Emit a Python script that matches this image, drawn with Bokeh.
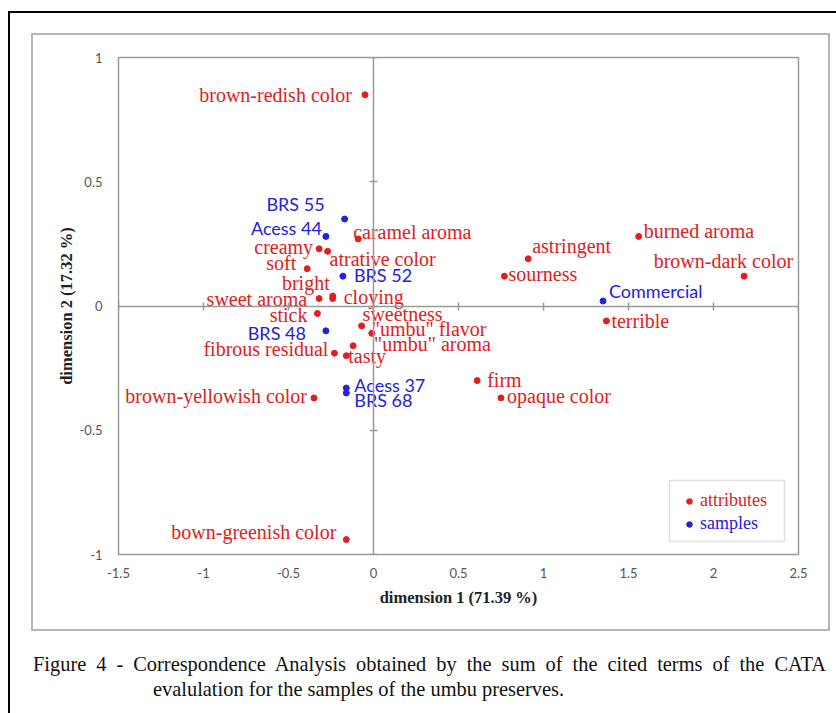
from bokeh.plotting import figure
from bokeh.models import (ColumnDataSource, Range1d, LinearAxis, FixedTicker, Legend, LegendItem,
                          BoxAnnotation, Div)
from bokeh.layouts import column
from bokeh.embed import file_html
from bokeh.resources import INLINE
from bokeh.core.properties import value

# ---------------- data ----------------
attr_names = ["brown-redish color", "caramel aroma", "creamy", "atrative color", "soft", "bright",
              "cloying", "sweet aroma", "stick", "sweetness", "\"umbu\" flavor", "\"umbu\" aroma",
              "tasty", "fibrous residual", "astringent", "burned aroma", "brown-dark color",
              "sourness", "terrible", "firm", "opaque color", "brown-yellowish color",
              "bown-greenish color"]
attr_dim1 = [-0.05, -0.09, -0.32, -0.27, -0.39, -0.24, -0.24, -0.32, -0.33, -0.07, -0.01, -0.12,
             -0.16, -0.23, 0.91, 1.56, 2.18, 0.77, 1.37, 0.61, 0.75, -0.35, -0.16]
attr_dim2 = [0.85, 0.27, 0.23, 0.22, 0.15, 0.04, 0.03, 0.03, -0.03, -0.08, -0.11, -0.16,
             -0.20, -0.19, 0.19, 0.28, 0.12, 0.12, -0.06, -0.30, -0.37, -0.37, -0.94]

sample_names = ["BRS 55", "Acess 44", "BRS 52", "BRS 48", "Commercial", "Acess 37", "BRS 68"]
sample_dim1 = [-0.17, -0.28, -0.18, -0.28, 1.35, -0.16, -0.16]
sample_dim2 = [0.35, 0.28, 0.12, -0.10, 0.02, -0.33, -0.35]

x_ticks = [-1.5, -1, -0.5, 0, 0.5, 1, 1.5, 2, 2.5]
x_tick_labels = ["-1.5", "-1", "-0.5", "0", "0.5", "1", "1.5", "2", "2.5"]
y_ticks = [-1, -0.5, 0, 0.5, 1]
y_tick_labels = ["-1", "-0.5", "0", "0.5", "1"]

x_title = "dimension 1 (71.39 %)"
y_title = "dimension 2 (17.32 %)"
legend_labels = ["attributes", "samples"]
caption = ("Figure 4 - Correspondence Analysis obtained by the sum of the cited terms of the CATA "
           "evalulation for the samples of the umbu preserves.")

# ---------------- label layout (pixel offsets, style only) ----------------
attr_align = ["right", "left", "right", "left", "right", "right", "left", "right", "right", "left",
              "left", "left", "left", "right", "left", "left", "right", "left", "left", "left",
              "left", "right", "right"]
attr_dx = [-13, -5, -6, 2, -11, -3, 11, -12, -10, 1, 0, 21, 2, -6, 4, 5, 49, 4, 5, 10, 6, -7, -10]
attr_dy = [0, -7, -2, 8, -6, -13, -2, 0, 2, -12, -4, -2, 0, -4, -13, -5, -15, -2, 0, -1, -2, -2, -8]

sample_align = ["right", "right", "left", "right", "left", "left", "left"]
sample_dx = [-20, -4, 11, -20, 6, 8, 8]
sample_dy = [-15, -8, -1, 2, -10, -3, 7]

RED = "#e02020"
BLUE = "#2222dd"
GRAY = "#9a9a9a"

attr_src = ColumnDataSource(dict(x=attr_dim1, y=attr_dim2, t=attr_names, a=attr_align,
                                 dx=attr_dx, dy=attr_dy))
samp_src = ColumnDataSource(dict(x=sample_dim1, y=sample_dim2, t=sample_names, a=sample_align,
                                 dx=sample_dx, dy=sample_dy))

W, H = 836, 640
p = figure(width=W, height=H, x_range=Range1d(-1.5, 2.5), y_range=Range1d(-1, 1),
           output_backend="svg", toolbar_location=None,
           min_border_left=118, min_border_right=38, min_border_top=57, min_border_bottom=86)
p.grid.visible = False
p.outline_line_color = GRAY
p.outline_line_width = 1.5
p.background_fill_color = "white"
p.border_fill_color = None

# main axes: labels only
for ax in (p.xaxis[0], p.yaxis[0]):
    ax.axis_line_color = None
    ax.major_tick_line_color = None
    ax.minor_tick_line_color = None
    ax.major_label_text_font = "Lato"
    ax.major_label_text_font_size = "13px"
    ax.major_label_text_color = "#555555"
    ax.axis_label_text_font = "Liberation Serif"
    ax.axis_label_text_font_style = "bold"
    ax.axis_label_text_font_size = "16.5px"
    ax.axis_label_text_color = "#222222"
p.xaxis[0].ticker = FixedTicker(ticks=x_ticks)
p.xaxis[0].major_label_overrides = dict(zip(x_ticks, x_tick_labels))
p.xaxis[0].major_label_standoff = 7
p.xaxis[0].axis_label = x_title
p.xaxis[0].axis_label_standoff = 7
p.yaxis[0].ticker = FixedTicker(ticks=y_ticks)
p.yaxis[0].major_label_overrides = dict(zip(y_ticks, y_tick_labels))
p.yaxis[0].major_label_standoff = 10
p.yaxis[0].axis_label = y_title
p.yaxis[0].axis_label_standoff = 1

# crosshair axes through the origin
cx = LinearAxis(fixed_location=0, ticker=FixedTicker(ticks=x_ticks),
                major_label_overrides={t: "" for t in x_ticks})
cy = LinearAxis(fixed_location=0, ticker=FixedTicker(ticks=y_ticks),
                major_label_overrides={t: "" for t in y_ticks})
for ax in (cx, cy):
    ax.axis_line_color = GRAY
    ax.axis_line_width = 1.5
    ax.major_tick_line_color = GRAY
    ax.major_tick_line_width = 1.5
    ax.major_tick_in = 4
    ax.major_tick_out = 4
    ax.minor_tick_line_color = None
    ax.major_label_text_font_size = "1px"
    ax.major_label_standoff = 0
p.add_layout(cx, "below")
p.add_layout(cy, "left")

# points
r_attr = p.scatter("x", "y", source=attr_src, size=6, color=RED)
r_samp = p.scatter("x", "y", source=samp_src, size=6, color=BLUE)

p.text("x", "y", text="t", source=attr_src, text_align="a", text_baseline="middle",
       x_offset="dx", y_offset="dy", text_font=value("Liberation Serif"),
       text_font_size="20px", text_color=RED)
p.text("x", "y", text="t", source=samp_src, text_align="a", text_baseline="middle",
       x_offset="dx", y_offset="dy", text_font=value("Lato"),
       text_font_size="18px", text_color=BLUE)

# legend (two parts so each label keeps its own colour) and its frame
for rend, lab, col, vy in ((r_attr, legend_labels[0], RED, 43), (r_samp, legend_labels[1], BLUE, 20)):
    lg = Legend(items=[LegendItem(label=lab, renderers=[rend])], location=(564, vy),
                padding=0, margin=0, spacing=0, glyph_height=20, glyph_width=14,
                label_height=20, label_standoff=4, border_line_color=None,
                background_fill_alpha=0, label_text_font="Liberation Serif",
                label_text_font_size="18px", label_text_color=col)
    p.add_layout(lg)

p.add_layout(BoxAnnotation(left=669, right=784, top=480, bottom=541,
                           left_units="canvas", right_units="canvas", top_units="canvas",
                           bottom_units="canvas", fill_alpha=0, line_color=GRAY, line_width=1.5))

html = ('<div style="position:relative;width:836px;height:73px;">'
        '<div style="position:absolute;left:33px;top:12px;width:793px;padding-left:120px;'
        'box-sizing:border-box;text-indent:-120px;text-align:justify;'
        'font-family:\'Liberation Serif\';font-size:20.4px;'
        'line-height:25px;color:#111111;">' + caption + '</div></div>')
cap = Div(text=html, width=W, height=73, margin=0)

# page frames (outer black border, inner gray panel) drawn as CSS background of the layout
frame_css = {
    "background-color": "white",
    "background-image": ", ".join(["linear-gradient(#000,#000)"] * 2 +
                                  ["linear-gradient(#b4b4b4,#b4b4b4)"] * 4),
    "background-repeat": "no-repeat",
    "background-position": "8px 11px, 8px 11px, 31px 33px, 31px 629px, 31px 33px, 828px 33px",
    "background-size": "828px 2px, 2px 702px, 799px 2px, 799px 2px, 2px 598px, 2px 598px",
}
layout = column(p, cap, spacing=0, styles=frame_css)
open("out.html", "w").write(file_html(layout, INLINE))
